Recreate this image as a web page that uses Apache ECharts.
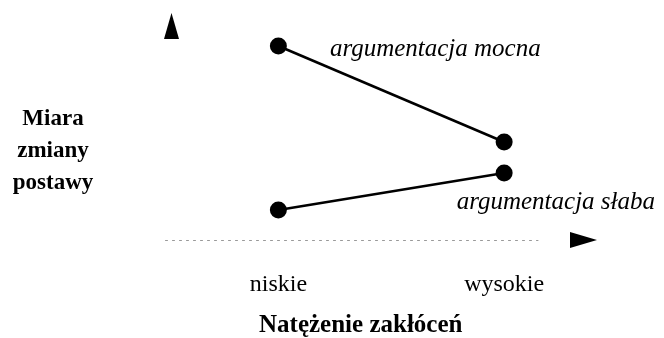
<!DOCTYPE html>
<html><head><meta charset="utf-8">
<script src="https://cdn.jsdelivr.net/npm/echarts@6/dist/echarts.min.js"></script>
<style>html,body{margin:0;padding:0;background:#fff}#c{width:664px;height:338px}</style>
</head><body><div id="c"></div>
<script>
const categories = ['niskie', 'wysokie'];
const categoryPositions = [1, 3];
const seriesNames = ['argumentacja mocna', 'argumentacja słaba'];
const strongValues = [9.7, 4.9];
const weakValues = [1.5, 3.35];
const xAxisTitle = 'Natężenie zakłóceń';
const yAxisTitleLines = ['Miara', 'zmiany', 'postawy'];

const FONT = 'Liberation Serif';
const chart = echarts.init(document.getElementById('c'), null, {renderer: 'canvas'});

const labelStyle = {fontFamily: FONT, fontStyle: 'italic', fontSize: 25, color: '#000'};

const strongData = categoryPositions.map((x, i) => {
  const item = {value: [x, strongValues[i]]};
  if (i === 0) {
    item.label = Object.assign({show: true, formatter: seriesNames[0], position: 'right', distance: 43,
      verticalAlign: 'middle', offset: [0, 3]}, labelStyle);
  }
  return item;
});
const weakData = categoryPositions.map((x, i) => {
  const item = {value: [x, weakValues[i]]};
  if (i === 1) {
    item.label = Object.assign({show: true, formatter: seriesNames[1], position: [-39, 38],
      align: 'left', verticalAlign: 'middle'}, labelStyle);
  }
  return item;
});

const lineSeries = (name, data) => ({
  name, type: 'line', data,
  symbol: 'circle', symbolSize: 17,
  itemStyle: {color: '#000'},
  lineStyle: {color: '#000', width: 2.5},
  label: {show: false},
  animation: false
});

const yTitleStyle = {fontFamily: FONT, fontWeight: 'bold', fontSize: 23, lineHeight: 32, color: '#000', align: 'center'};

chart.setOption({
  backgroundColor: '#fff',
  animation: false,
  grid: {left: 165.5, right: 126, top: 20, bottom: 98, outerBoundsMode: 'none', containLabel: false},
  xAxis: {
    type: 'value', min: 0, max: 3.3, interval: 1,
    name: xAxisTitle, nameLocation: 'middle', nameGap: 73,
    nameTextStyle: {fontFamily: FONT, fontWeight: 'bold', fontSize: 25, color: '#000', padding: [0, 0, 0, 18]},
    axisLine: {show: true, lineStyle: {color: '#999', width: 1, type: [2, 5]}},
    axisTick: {show: false},
    splitLine: {show: false},
    axisLabel: {
      show: true, margin: 33, fontFamily: FONT, fontSize: 24, color: '#000',
      showMinLabel: true, showMaxLabel: false,
      formatter: v => { const k = categoryPositions.indexOf(v); return k >= 0 ? categories[k] : ''; }
    }
  },
  yAxis: {
    type: 'value', min: 0, max: 11,
    name: '{s| }\n' + yAxisTitleLines.map(t => '{t|' + t + '}').join('\n'),
    nameLocation: 'middle', nameRotate: 0, nameGap: 112.5,
    nameTextStyle: {
      align: 'center', verticalAlign: 'middle',
      rich: {
        s: {fontSize: 10, lineHeight: 42, color: '#fff'},
        t: yTitleStyle
      }
    },
    axisLine: {show: false}, axisTick: {show: false}, axisLabel: {show: false}, splitLine: {show: false}
  },
  graphic: [
    {type: 'polygon', shape: {points: [[164, 39], [171.5, 13], [179, 39]]}, style: {fill: '#000'}},
    {type: 'polygon', shape: {points: [[570, 232], [597, 240], [570, 248]]}, style: {fill: '#000'}}
  ],
  series: [lineSeries(seriesNames[0], strongData), lineSeries(seriesNames[1], weakData)]
});
</script></body></html>
